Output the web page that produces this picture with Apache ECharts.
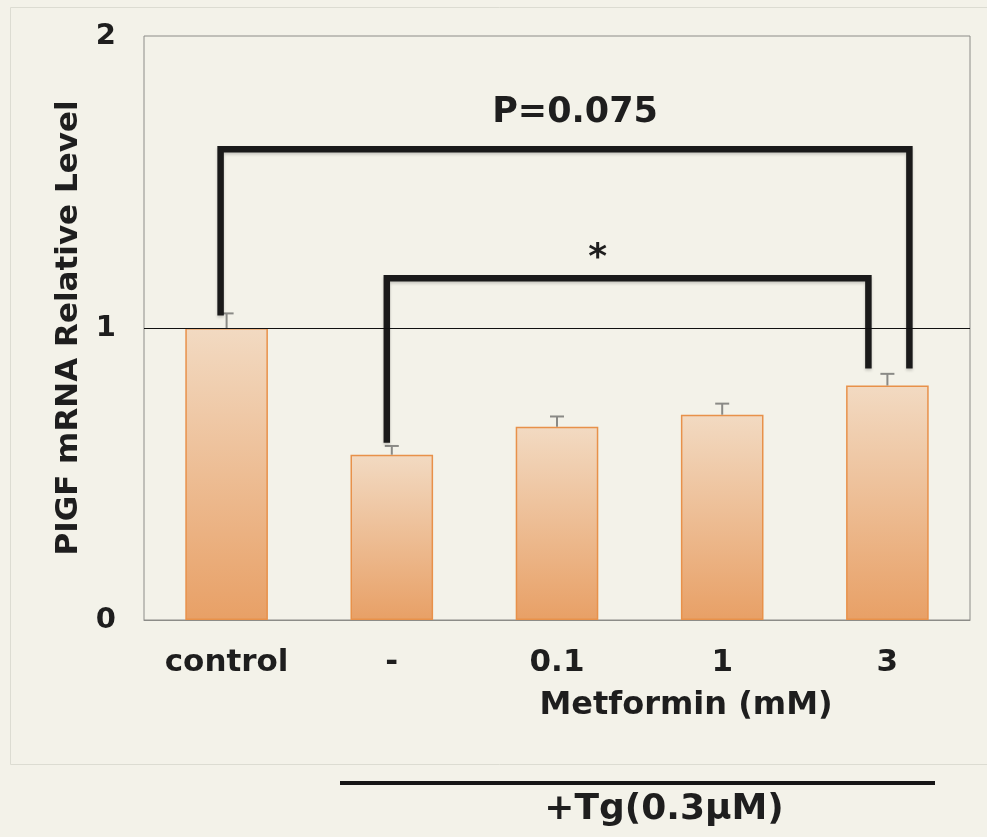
<!DOCTYPE html>
<html>
<head>
<meta charset="utf-8">
<script src="https://cdn.jsdelivr.net/npm/echarts@6/dist/echarts.min.js"></script>
<style>
html,body{margin:0;padding:0;background:#f3f2e9;}
#c{width:987px;height:837px;}
</style>
</head>
<body>
<div id="c"></div>
<script>
// ---- data ----
const categories = ['control', '-', '0.1', '1', '3'];
const values = [1.0, 0.566, 0.662, 0.703, 0.803];
const errors = [0.05, 0.03, 0.035, 0.038, 0.04];
const yTicks = [0, 1, 2];
// brackets: [leftCategoryIndex, rightCategoryIndex, leftStartValue, topValue, rightEndValue]
const brackets = [
  [0, 4, 1.043, 1.612, 0.861],
  [1, 4, 0.607, 1.170, 0.861]
];
const bracketLabels = ['P=0.075', '*'];

// ---- style config (pixel offsets of bracket legs from category centres) ----
const legOffsets = [[-6, 22], [-5, -19]];
const FONT = 'DejaVu Sans';

const chart = echarts.init(document.getElementById('c'), null, {renderer: 'canvas'});

const option = {
  backgroundColor: '#f3f2e9',
  animation: false,
  grid: {left: 144, right: 17, top: 36, bottom: 217, show: true, borderColor: '#8c8c88', borderWidth: 1, backgroundColor: 'transparent'},
  xAxis: {
    type: 'category',
    data: categories,
    axisLine: {show: true, lineStyle: {color: '#8c8c88', width: 1}},
    axisTick: {show: false},
    axisLabel: {fontFamily: FONT, fontWeight: 'bold', fontSize: 31, color: '#1e1e1e', margin: 27}
  },
  yAxis: {
    type: 'value',
    min: 0, max: 2, interval: 1,
    axisLine: {show: false},
    axisTick: {show: false},
    splitLine: {show: false},
    axisLabel: {fontFamily: FONT, fontWeight: 'bold', fontSize: 29, color: '#1e1e1e', margin: 28,
      formatter: v => yTicks.includes(v) ? String(v) : ''},
    name: 'PIGF mRNA Relative Level',
    nameLocation: 'middle',
    nameGap: 60,
    nameRotate: 90,
    nameTextStyle: {fontFamily: FONT, fontWeight: 'bold', fontSize: 31, color: '#1e1e1e'}
  },
  series: [
    {
      type: 'bar',
      data: values,
      barWidth: '50%',
      itemStyle: {
        color: new echarts.graphic.LinearGradient(0, 0, 0, 1, [
          {offset: 0, color: '#f2dac2'},
          {offset: 1, color: '#e8a066'}
        ]),
        borderColor: '#e8914a',
        borderWidth: 1.5
      },
      markLine: {
        silent: true,
        symbol: 'none',
        label: {show: false},
        lineStyle: {color: '#111', width: 1.2, type: 'solid'},
        data: [{yAxis: 1}]
      },
      z: 2
    },
    {
      type: 'custom',
      data: values.map((v, i) => [i, v, errors[i]]),
      renderItem: function (params, api) {
        const i = api.value(0);
        const base = api.coord([i, api.value(1)]);
        const top = api.coord([i, api.value(1) + api.value(2)]);
        const w = 7;
        return {
          type: 'group',
          children: [
            {type: 'line', shape: {x1: base[0], y1: base[1], x2: top[0], y2: top[1]}, style: {stroke: '#8a8a86', lineWidth: 2}},
            {type: 'line', shape: {x1: top[0] - w, y1: top[1], x2: top[0] + w, y2: top[1]}, style: {stroke: '#8a8a86', lineWidth: 2}}
          ]
        };
      },
      z: 3
    },
    {
      type: 'custom',
      data: brackets,
      renderItem: function (params, api) {
        const idx = params.dataIndex;
        const off = legOffsets[idx];
        const l = api.coord([api.value(0), api.value(2)]);
        const t = api.coord([api.value(0), api.value(3)]);
        const r = api.coord([api.value(1), api.value(4)]);
        const xl = l[0] + off[0], xr = r[0] + off[1];
        const pts = [[xl, l[1]], [xl, t[1]], [xr, t[1]], [xr, r[1]]];
        const cx = (xl + xr) / 2;
        const label = bracketLabels[idx];
        return {
          type: 'group',
          children: [
            {type: 'polyline', shape: {points: pts}, style: {stroke: '#1a1a1a', lineWidth: 6.5, fill: null, lineJoin: 'miter', shadowColor: 'rgba(0,0,0,0.18)', shadowBlur: 3, shadowOffsetY: 2}},
            {type: 'text', x: cx + (idx === 0 ? 10 : -30), y: t[1] - (idx === 0 ? 36 : 20),
              style: {text: label, fontFamily: FONT, fontWeight: 'bold', fontSize: idx === 0 ? 35 : 36, fill: '#1e1e1e', align: 'center', verticalAlign: 'middle'}}
          ]
        };
      },
      z: 4
    }
  ],
  graphic: [
    {type: 'rect', left: 8, top: 5, shape: {width: 990, height: 757}, style: {fill: null, stroke: '#dcdcd2', lineWidth: 1}, z: -1},
    {type: 'text', x: 686, y: 706, style: {text: 'Metformin (mM)', fontFamily: FONT, fontWeight: 'bold', fontSize: 32, fill: '#1e1e1e', align: 'center', verticalAlign: 'middle'}},
    {type: 'line', shape: {x1: 340, y1: 783, x2: 935, y2: 783}, style: {stroke: '#161616', lineWidth: 4}},
    {type: 'text', x: 664, y: 810, style: {text: '+Tg(0.3μM)', fontFamily: FONT, fontWeight: 'bold', fontSize: 36, fill: '#1e1e1e', align: 'center', verticalAlign: 'middle'}}
  ]
};

chart.setOption(option);
</script>
</body>
</html>
